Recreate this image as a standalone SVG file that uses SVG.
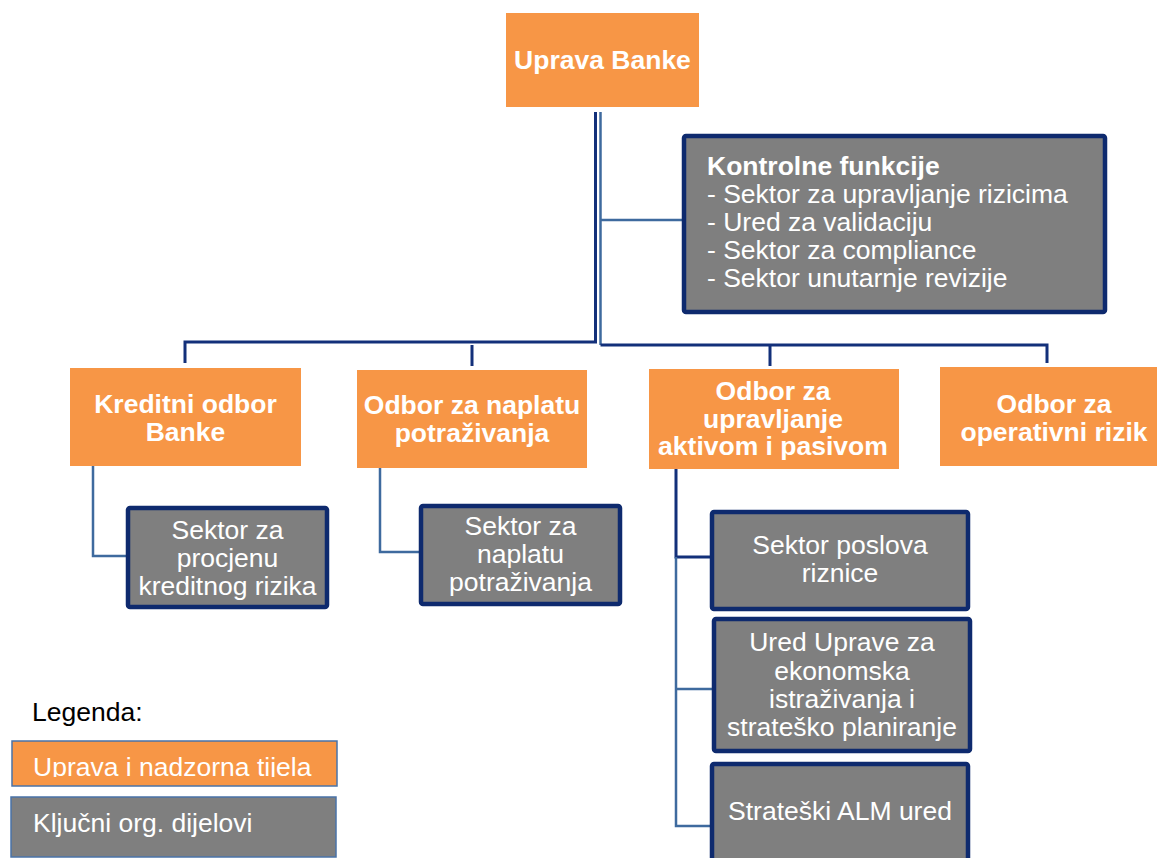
<svg xmlns="http://www.w3.org/2000/svg" width="1157" height="858" viewBox="0 0 1157 858">
<defs>
<style>
.org{fill:#F79646}
.key{fill:#7F7F7F;stroke:#0E2A6E;stroke-width:4.5}
.tb{font-family:"Liberation Sans",Arial,sans-serif;font-weight:bold;font-size:26.5px;fill:#fff;text-anchor:middle}
.tr{font-family:"Liberation Sans",Arial,sans-serif;font-size:26.5px;fill:#fff;text-anchor:middle}
.tl{font-family:"Liberation Sans",Arial,sans-serif;font-size:26.5px;fill:#fff}
.dk{stroke:#13307A;stroke-width:3;fill:none}
.lt{stroke:#3E6A9E;stroke-width:2.5;fill:none}
</style>
<clipPath id="legclip"><rect x="12" y="741" width="325" height="36"/></clipPath>
</defs>
<rect width="1157" height="858" fill="#fff"/>
<g id="connectors">
<path class="dk" d="M595.5 112V342H185V363"/>
<path class="lt" d="M600.5 112V345"/>
<path class="lt" d="M600.5 220H684"/>
<path class="dk" d="M600.5 345H1047V363"/>
<path class="dk" d="M472 345V366"/>
<path class="dk" d="M770 345V366"/>
<path class="lt" d="M93 466V556H127"/>
<path class="lt" d="M380 468V552H420"/>
<path class="dk" d="M676 469V557H711"/>
<path class="lt" d="M676 557V826H711M676 689H713"/>
</g>
<g id="uprava-banke">
<rect class="org" x="506" y="13" width="193" height="94"/>
<text class="tb" x="602.5" y="69">Uprava Banke</text>
</g>
<g id="kontrolne-funkcije">
<rect class="key" x="684" y="136" width="421" height="176" rx="2" stroke-width="5"/>
<text class="tl" x="707" y="175" font-weight="bold">Kontrolne funkcije</text>
<text class="tl" x="707" y="203">- Sektor za upravljanje rizicima</text>
<text class="tl" x="707" y="231">- Ured za validaciju</text>
<text class="tl" x="707" y="259">- Sektor za compliance</text>
<text class="tl" x="707" y="287">- Sektor unutarnje revizije</text>
</g>
<g id="kreditni-odbor">
<rect class="org" x="70" y="368" width="231" height="98"/>
<text class="tb" x="185.5" y="413">Kreditni odbor</text>
<text class="tb" x="185.5" y="441">Banke</text>
</g>
<g id="odbor-naplata">
<rect class="org" x="357" y="370" width="230" height="98"/>
<text class="tb" x="472" y="414">Odbor za naplatu</text>
<text class="tb" x="472" y="442">potraživanja</text>
</g>
<g id="odbor-alco">
<rect class="org" x="649" y="369" width="250" height="100"/>
<text class="tb" x="773" y="400">Odbor za</text>
<text class="tb" x="773" y="428">upravljanje</text>
<text class="tb" x="773" y="455">aktivom i pasivom</text>
</g>
<g id="odbor-operativni">
<rect class="org" x="940" y="367" width="217" height="99"/>
<text class="tb" x="1054" y="413">Odbor za</text>
<text class="tb" x="1054" y="441">operativni rizik</text>
</g>
<g id="sektor-procjena">
<rect class="key" x="128" y="508" width="199" height="99" rx="2"/>
<text class="tr" x="227.5" y="539">Sektor za</text>
<text class="tr" x="227.5" y="567">procjenu</text>
<text class="tr" x="227.5" y="595">kreditnog rizika</text>
</g>
<g id="sektor-naplata">
<rect class="key" x="421" y="506" width="199" height="98" rx="2"/>
<text class="tr" x="520.5" y="535">Sektor za</text>
<text class="tr" x="520.5" y="563">naplatu</text>
<text class="tr" x="520.5" y="591">potraživanja</text>
</g>
<g id="sektor-riznice">
<rect class="key" x="712" y="512" width="256" height="97" rx="2"/>
<text class="tr" x="840" y="554">Sektor poslova</text>
<text class="tr" x="840" y="582">riznice</text>
</g>
<g id="ured-uprave">
<rect class="key" x="714" y="619" width="256" height="132" rx="2"/>
<text class="tr" x="842" y="651">Ured Uprave za</text>
<text class="tr" x="842" y="680">ekonomska</text>
<text class="tr" x="842" y="708">istraživanja i</text>
<text class="tr" x="842" y="736">strateško planiranje</text>
</g>
<g id="strateski-alm">
<rect class="key" x="712" y="764" width="256" height="100" rx="2"/>
<text class="tr" x="840" y="820">Strateški ALM ured</text>
</g>
<g id="legenda">
<text x="32" y="721" font-family="'Liberation Sans',Arial,sans-serif" font-size="26.5" fill="#000">Legenda:</text>
<rect x="12" y="741" width="325" height="45" fill="#F79646" stroke="#4A73A8" stroke-width="1.5"/>
<text class="tl" x="33" y="776" clip-path="url(#legclip)">Uprava i nadzorna tijela</text>
<rect x="11" y="797" width="325" height="60" fill="#7F7F7F" stroke="#4A73A8" stroke-width="1.5"/>
<text class="tl" x="33" y="832">Ključni org. dijelovi</text>
</g>
</svg>
